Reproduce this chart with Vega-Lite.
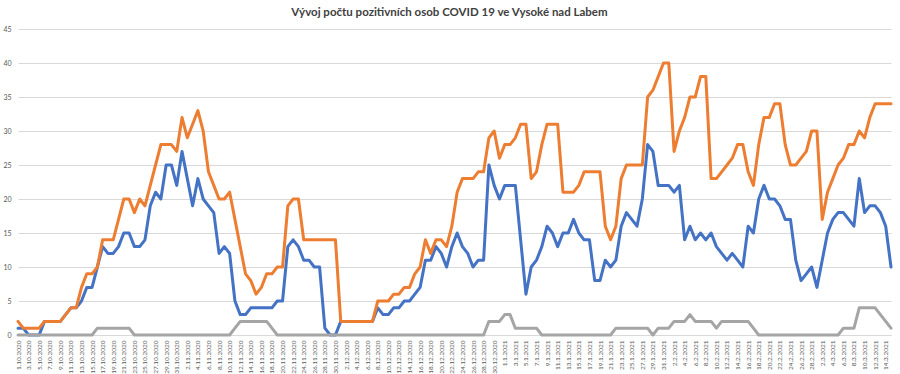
{
  "$schema": "https://vega.github.io/schema/vega-lite/v6.json",
  "width": 873,
  "height": 306,
  "autosize": {"type": "none"},
  "padding": {"left": 18, "top": 29, "right": 9, "bottom": 39},
  "background": "white",
  "config": {"view": {"stroke": null}, "font": "Lato",
    "axisY": {"title": null, "values": [0,5,10,15,20,25,30,35,40,45], "tickCount": 9, "labelOverlap": false, "grid": true, "gridColor": "#d9d9d9", "domain": false, "ticks": false, "labelFontSize": 7, "labelColor": "#595959", "labelPadding": 7, "labelFont": "Lato"}},
  "title": {"text": "Vývoj počtu pozitivních osob COVID 19 ve Vysoké nad Labem", "fontSize": 11.5, "fontWeight": "bold", "color": "#404040", "offset": 7, "anchor": "middle", "font": "Lato", "dx": -5},
  "data": {"values": [
    {"d":"2020-10-01","b":1,"o":2,"g":0},{"d":"2020-10-02","b":1,"o":1,"g":0},{"d":"2020-10-03","b":0,"o":1,"g":0},{"d":"2020-10-04","b":0,"o":1,"g":0},{"d":"2020-10-05","b":0,"o":1,"g":0},
    {"d":"2020-10-06","b":2,"o":2,"g":0},{"d":"2020-10-07","b":2,"o":2,"g":0},{"d":"2020-10-08","b":2,"o":2,"g":0},{"d":"2020-10-09","b":2,"o":2,"g":0},{"d":"2020-10-10","b":3,"o":3,"g":0},
    {"d":"2020-10-11","b":4,"o":4,"g":0},{"d":"2020-10-12","b":4,"o":4,"g":0},{"d":"2020-10-13","b":5,"o":7,"g":0},{"d":"2020-10-14","b":7,"o":9,"g":0},{"d":"2020-10-15","b":7,"o":9,"g":0},
    {"d":"2020-10-16","b":10,"o":10,"g":1},{"d":"2020-10-17","b":13,"o":14,"g":1},{"d":"2020-10-18","b":12,"o":14,"g":1},{"d":"2020-10-19","b":12,"o":14,"g":1},{"d":"2020-10-20","b":13,"o":17,"g":1},
    {"d":"2020-10-21","b":15,"o":20,"g":1},{"d":"2020-10-22","b":15,"o":20,"g":1},{"d":"2020-10-23","b":13,"o":18,"g":0},{"d":"2020-10-24","b":13,"o":20,"g":0},{"d":"2020-10-25","b":14,"o":19,"g":0},
    {"d":"2020-10-26","b":19,"o":22,"g":0},{"d":"2020-10-27","b":21,"o":25,"g":0},{"d":"2020-10-28","b":20,"o":28,"g":0},{"d":"2020-10-29","b":25,"o":28,"g":0},{"d":"2020-10-30","b":25,"o":28,"g":0},
    {"d":"2020-10-31","b":22,"o":27,"g":0},
    {"d":"2020-11-01","b":27,"o":32,"g":0},{"d":"2020-11-02","b":23,"o":29,"g":0},{"d":"2020-11-03","b":19,"o":31,"g":0},{"d":"2020-11-04","b":23,"o":33,"g":0},{"d":"2020-11-05","b":20,"o":30,"g":0},
    {"d":"2020-11-06","b":19,"o":24,"g":0},{"d":"2020-11-07","b":18,"o":22,"g":0},{"d":"2020-11-08","b":12,"o":20,"g":0},{"d":"2020-11-09","b":13,"o":20,"g":0},{"d":"2020-11-10","b":12,"o":21,"g":0},
    {"d":"2020-11-11","b":5,"o":17,"g":1},{"d":"2020-11-12","b":3,"o":13,"g":2},{"d":"2020-11-13","b":3,"o":9,"g":2},{"d":"2020-11-14","b":4,"o":8,"g":2},{"d":"2020-11-15","b":4,"o":6,"g":2},
    {"d":"2020-11-16","b":4,"o":7,"g":2},{"d":"2020-11-17","b":4,"o":9,"g":2},{"d":"2020-11-18","b":4,"o":9,"g":1},{"d":"2020-11-19","b":5,"o":10,"g":0},{"d":"2020-11-20","b":5,"o":10,"g":0},
    {"d":"2020-11-21","b":13,"o":19,"g":0},{"d":"2020-11-22","b":14,"o":20,"g":0},{"d":"2020-11-23","b":13,"o":20,"g":0},{"d":"2020-11-24","b":11,"o":14,"g":0},{"d":"2020-11-25","b":11,"o":14,"g":0},
    {"d":"2020-11-26","b":10,"o":14,"g":0},{"d":"2020-11-27","b":10,"o":14,"g":0},{"d":"2020-11-28","b":1,"o":14,"g":0},{"d":"2020-11-29","b":0,"o":14,"g":0},{"d":"2020-11-30","b":0,"o":14,"g":0},
    {"d":"2020-12-01","b":2,"o":2,"g":0},{"d":"2020-12-02","b":2,"o":2,"g":0},{"d":"2020-12-03","b":2,"o":2,"g":0},{"d":"2020-12-04","b":2,"o":2,"g":0},{"d":"2020-12-05","b":2,"o":2,"g":0},
    {"d":"2020-12-06","b":2,"o":2,"g":0},{"d":"2020-12-07","b":2,"o":2,"g":0},{"d":"2020-12-08","b":4,"o":5,"g":0},{"d":"2020-12-09","b":3,"o":5,"g":0},{"d":"2020-12-10","b":3,"o":5,"g":0},
    {"d":"2020-12-11","b":4,"o":6,"g":0},{"d":"2020-12-12","b":4,"o":6,"g":0},{"d":"2020-12-13","b":5,"o":7,"g":0},{"d":"2020-12-14","b":5,"o":7,"g":0},{"d":"2020-12-15","b":6,"o":9,"g":0},
    {"d":"2020-12-16","b":7,"o":10,"g":0},{"d":"2020-12-17","b":11,"o":14,"g":0},{"d":"2020-12-18","b":11,"o":12,"g":0},{"d":"2020-12-19","b":13,"o":14,"g":0},{"d":"2020-12-20","b":12,"o":14,"g":0},
    {"d":"2020-12-21","b":10,"o":13,"g":0},{"d":"2020-12-22","b":13,"o":16,"g":0},{"d":"2020-12-23","b":15,"o":21,"g":0},{"d":"2020-12-24","b":13,"o":23,"g":0},{"d":"2020-12-25","b":12,"o":23,"g":0},
    {"d":"2020-12-26","b":10,"o":23,"g":0},{"d":"2020-12-27","b":11,"o":24,"g":0},{"d":"2020-12-28","b":11,"o":24,"g":0},{"d":"2020-12-29","b":25,"o":29,"g":2},{"d":"2020-12-30","b":22,"o":30,"g":2},
    {"d":"2020-12-31","b":20,"o":26,"g":2},
    {"d":"2021-01-01","b":22,"o":28,"g":3},{"d":"2021-01-02","b":22,"o":28,"g":3},{"d":"2021-01-03","b":22,"o":29,"g":1},{"d":"2021-01-04","b":14,"o":31,"g":1},{"d":"2021-01-05","b":6,"o":31,"g":1},
    {"d":"2021-01-06","b":10,"o":23,"g":1},{"d":"2021-01-07","b":11,"o":24,"g":1},{"d":"2021-01-08","b":13,"o":28,"g":0},{"d":"2021-01-09","b":16,"o":31,"g":0},{"d":"2021-01-10","b":15,"o":31,"g":0},
    {"d":"2021-01-11","b":13,"o":31,"g":0},{"d":"2021-01-12","b":15,"o":21,"g":0},{"d":"2021-01-13","b":15,"o":21,"g":0},{"d":"2021-01-14","b":17,"o":21,"g":0},{"d":"2021-01-15","b":15,"o":22,"g":0},
    {"d":"2021-01-16","b":14,"o":24,"g":0},{"d":"2021-01-17","b":14,"o":24,"g":0},{"d":"2021-01-18","b":8,"o":24,"g":0},{"d":"2021-01-19","b":8,"o":24,"g":0},{"d":"2021-01-20","b":11,"o":16,"g":0},
    {"d":"2021-01-21","b":10,"o":14,"g":0},{"d":"2021-01-22","b":11,"o":16,"g":1},{"d":"2021-01-23","b":16,"o":23,"g":1},{"d":"2021-01-24","b":18,"o":25,"g":1},{"d":"2021-01-25","b":17,"o":25,"g":1},
    {"d":"2021-01-26","b":16,"o":25,"g":1},{"d":"2021-01-27","b":20,"o":25,"g":1},{"d":"2021-01-28","b":28,"o":35,"g":1},{"d":"2021-01-29","b":27,"o":36,"g":0},{"d":"2021-01-30","b":22,"o":38,"g":1},
    {"d":"2021-01-31","b":22,"o":40,"g":1},
    {"d":"2021-02-01","b":22,"o":40,"g":1},{"d":"2021-02-02","b":21,"o":27,"g":2},{"d":"2021-02-03","b":22,"o":30,"g":2},{"d":"2021-02-04","b":14,"o":32,"g":2},{"d":"2021-02-05","b":16,"o":35,"g":3},
    {"d":"2021-02-06","b":14,"o":35,"g":2},{"d":"2021-02-07","b":15,"o":38,"g":2},{"d":"2021-02-08","b":14,"o":38,"g":2},{"d":"2021-02-09","b":15,"o":23,"g":2},{"d":"2021-02-10","b":13,"o":23,"g":1},
    {"d":"2021-02-11","b":12,"o":24,"g":2},{"d":"2021-02-12","b":11,"o":25,"g":2},{"d":"2021-02-13","b":12,"o":26,"g":2},{"d":"2021-02-14","b":11,"o":28,"g":2},{"d":"2021-02-15","b":10,"o":28,"g":2},
    {"d":"2021-02-16","b":16,"o":24,"g":2},{"d":"2021-02-17","b":15,"o":22,"g":1},{"d":"2021-02-18","b":20,"o":28,"g":0},{"d":"2021-02-19","b":22,"o":32,"g":0},{"d":"2021-02-20","b":20,"o":32,"g":0},
    {"d":"2021-02-21","b":20,"o":34,"g":0},{"d":"2021-02-22","b":19,"o":34,"g":0},{"d":"2021-02-23","b":17,"o":28,"g":0},{"d":"2021-02-24","b":17,"o":25,"g":0},{"d":"2021-02-25","b":11,"o":25,"g":0},
    {"d":"2021-02-26","b":8,"o":26,"g":0},{"d":"2021-02-27","b":9,"o":27,"g":0},{"d":"2021-02-28","b":10,"o":30,"g":0},
    {"d":"2021-03-01","b":7,"o":30,"g":0},{"d":"2021-03-02","b":11,"o":17,"g":0},{"d":"2021-03-03","b":15,"o":21,"g":0},{"d":"2021-03-04","b":17,"o":23,"g":0},{"d":"2021-03-05","b":18,"o":25,"g":0},
    {"d":"2021-03-06","b":18,"o":26,"g":1},{"d":"2021-03-07","b":17,"o":28,"g":1},{"d":"2021-03-08","b":16,"o":28,"g":1},{"d":"2021-03-09","b":23,"o":30,"g":4},{"d":"2021-03-10","b":18,"o":29,"g":4},
    {"d":"2021-03-11","b":19,"o":32,"g":4},{"d":"2021-03-12","b":19,"o":34,"g":4},{"d":"2021-03-13","b":18,"o":34,"g":3},{"d":"2021-03-14","b":16,"o":34,"g":2},{"d":"2021-03-15","b":10,"o":34,"g":1}
  ]},
  "encoding": {
    "x": {
      "field": "d", "type": "temporal",
      "scale": {"type": "utc", "nice": false},
      "axis": {
        "title": null, "grid": false, "domain": true, "domainColor": "#d9d9d9", "ticks": false,
        "labelAngle": -90, "labelFontSize": 6.5, "labelColor": "#595959", "labelOverlap": false, "labelFlush": false,
        "labelPadding": 5, "labelFont": "Lato",
        "tickCount": {"interval": "day", "step": 1},
        "labelExpr": "(round((datum.value - utc(2020, 9, 1)) / 86400000) % 2 == 0) ? utcFormat(datum.value, '%-d.%-m.%Y') : ''"
      }
    }
  },
  "layer": [
    {"mark": {"type": "line", "color": "#4472C4", "strokeWidth": 3, "strokeJoin": "round", "strokeCap": "round"},
     "encoding": {"y": {"field": "b", "type": "quantitative", "title": null, "scale": {"domain": [0, 45], "nice": false}}}},
    {"mark": {"type": "line", "color": "#ED7D31", "strokeWidth": 3, "strokeJoin": "round", "strokeCap": "round"},
     "encoding": {"y": {"field": "o", "type": "quantitative", "title": null}}},
    {"mark": {"type": "line", "color": "#A5A5A5", "strokeWidth": 3, "strokeJoin": "round", "strokeCap": "round"},
     "encoding": {"y": {"field": "g", "type": "quantitative", "title": null}}}
  ]
}
